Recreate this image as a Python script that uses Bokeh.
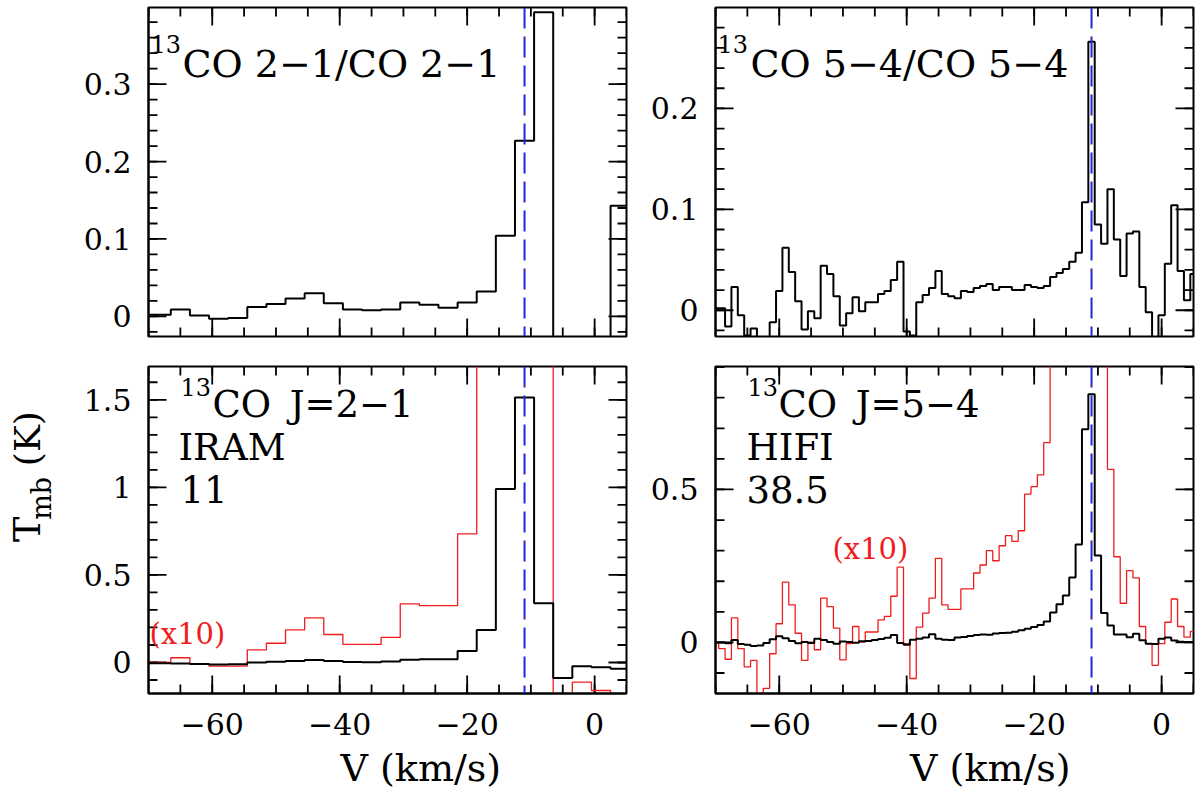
from bokeh.plotting import figure
from bokeh.layouts import gridplot
from bokeh.models import LinearAxis, FixedTicker, Span
from bokeh.core.properties import value
from bokeh.embed import file_html
from bokeh.resources import INLINE
import numpy as np

FONT = "DejaVu Serif"
RED = "#f01c1c"
BLUE = "#2424dd"
MID = 0.38  # distance from a text's vertical middle down to its baseline, in em

# IRAM 13CO 2-1, 3 km/s channels
v_iram = [-71, -68, -65, -62, -59, -56, -53, -50, -47, -44, -41, -38, -35,
          -32, -29, -26, -23, -20, -17, -14, -11, -8, -5, -2, 1, 4]
ratio_21 = [0.002, 0.002, 0.009, 0.001, -0.003, -0.002, 0.012, 0.016, 0.023, 0.030, 0.017, 0.009, 0.008,
            0.009, 0.018, 0.015, 0.011, 0.018, 0.032, 0.104, 0.227, 0.393, -0.3, -0.3, -0.3, 0.143]
tmb_21 = [-0.005, -0.005, -0.006, -0.008, -0.012, -0.010, 0.000, 0.004, 0.008, 0.014, 0.008, 0.003, 0.002,
          0.006, 0.016, 0.018, 0.018, 0.065, 0.186, 0.990, 1.513, 0.338, -0.089, -0.021, -0.027, -0.036]
tmb_21_x10 = [0.0, 0.0, 0.027, -0.008, -0.021, -0.021, 0.072, 0.110, 0.186, 0.255, 0.160, 0.103, 0.103,
              0.144, 0.335, 0.325, 0.325, 0.734, 1.86, 9.9, 15.1, 3.38, -0.89, -0.112, -0.160, -0.30]

# HIFI 13CO 5-4, 1 km/s channels
v_hifi = [-70, -69, -68, -67, -66, -65, -64, -63, -62, -61,
          -60, -59, -58, -57, -56, -55, -54, -53, -52, -51,
          -50, -49, -48, -47, -46, -45, -44, -43, -42, -41,
          -40, -39, -38, -37, -36, -35, -34, -33, -32, -31,
          -30, -29, -28, -27, -26, -25, -24, -23, -22, -21,
          -20, -19, -18, -17, -16, -15, -14, -13, -12, -11,
          -10, -9, -8, -7, -6, -5, -4, -3, -2, -1,
          0, 1, 2, 3, 4, 5]
ratio_54 = [0.002, 0.002, -0.016, 0.023, -0.005, -0.025, -0.018, -0.040, -0.040, -0.012,
            0.019, 0.062, 0.038, 0.009, -0.019, -0.001, -0.008, 0.044, 0.036, 0.014,
            -0.015, -0.003, 0.013, -0.001, 0.008, 0.008, 0.016, 0.019, 0.030, 0.048,
            -0.021, -0.025, 0.008, 0.015, 0.022, 0.039, 0.016, 0.014, 0.012, 0.019,
            0.018, 0.022, 0.024, 0.026, 0.020, 0.023, 0.023, 0.020, 0.020, 0.025,
            0.023, 0.022, 0.024, 0.033, 0.037, 0.041, 0.048, 0.057, 0.107, 0.266,
            0.085, 0.066, 0.120, 0.070, 0.034, 0.076, 0.078, 0.023, -0.002, -0.040,
            -0.005, 0.046, 0.104, 0.039, 0.010, 0.036]
tmb_54 = [0.000, 0.000, -0.003, 0.008, -0.005, -0.008, -0.012, -0.010, -0.002, 0.010,
          0.020, 0.014, 0.005, -0.003, 0.001, -0.002, 0.012, 0.008, 0.001, -0.004,
          0.003, 0.001, -0.001, 0.004, 0.005, 0.008, 0.011, 0.015, 0.024, -0.002,
          -0.008, 0.009, 0.012, 0.016, 0.027, 0.012, 0.009, 0.008, 0.016, 0.018,
          0.021, 0.024, 0.026, 0.025, 0.029, 0.031, 0.032, 0.035, 0.040, 0.045,
          0.050, 0.057, 0.068, 0.098, 0.125, 0.153, 0.212, 0.320, 0.697, 0.811,
          0.284, 0.096, 0.055, 0.026, 0.026, 0.017, 0.028, 0.007, -0.004, -0.005,
          0.012, 0.016, 0.006, 0.002, 0.001, 0.001]
tmb_54_x10 = [0.000, -0.020, -0.055, 0.080, -0.020, -0.080, -0.059, -0.250, -0.150, -0.037,
              0.061, 0.197, 0.123, 0.030, -0.059, 0.001, -0.024, 0.145, 0.117, 0.047,
              -0.057, -0.004, 0.052, 0.001, 0.034, 0.034, 0.074, 0.085, 0.151, 0.246,
              -0.004, -0.118, 0.050, 0.096, 0.145, 0.275, 0.123, 0.108, 0.108, 0.175,
              0.175, 0.227, 0.253, 0.300, 0.267, 0.316, 0.349, 0.330, 0.365, 0.485,
              0.509, 0.548, 0.653, 0.98, 1.25, 1.53, 2.12, 3.20, 6.97, 8.11,
              2.84, 0.96, 0.566, 0.280, 0.128, 0.235, 0.211, 0.052, -0.004, -0.075,
              -0.004, 0.066, 0.142, 0.052, 0.017, 0.036]

v_source = -11.0

x_ticks = [-60, -40, -20, 0]
x_tick_labels = ["\u221260", "\u221240", "\u221220", "0"]
y_ticks_tl = [0, 0.1, 0.2, 0.3]
y_labels_tl = ["0", "0.1", "0.2", "0.3"]
y_ticks_tr = [0, 0.1, 0.2]
y_labels_tr = ["0", "0.1", "0.2"]
y_ticks_bl = [0, 0.5, 1, 1.5]
y_labels_bl = ["0", "0.5", "1", "1.5"]
y_ticks_br = [0, 0.5]
y_labels_br = ["0", "0.5"]

X_RANGE = (-70, 5)
FRAME_W = 478


def stairs(v, t, dv):
    xs, ys = [], []
    for vi, ti in zip(v, t):
        xs += [vi - dv / 2, vi + dv / 2]
        ys += [ti, ti]
    return xs, ys


def label_axis(ax, standoff):
    ax.axis_line_width = 2
    ax.axis_line_color = "black"
    ax.major_tick_in = 0
    ax.major_tick_out = 0
    ax.minor_tick_in = 0
    ax.minor_tick_out = 0
    ax.major_label_text_font = FONT
    ax.major_label_text_font_size = "30px"
    ax.major_label_text_color = "black"
    ax.major_label_standoff = standoff


def inner_ticks(p, ticks, minor, yr, vertical):
    # ticks pointing into the frame from both opposite edges
    for pos, n in ((ticks, 18), (minor, 9)):
        if vertical:
            p.ray(x=pos, y=[yr[0]] * len(pos), length=n, angle=np.pi / 2,
                  length_units="screen", line_color="black", line_width=1.8)
            p.ray(x=pos, y=[yr[1]] * len(pos), length=n, angle=-np.pi / 2,
                  length_units="screen", line_color="black", line_width=1.8)
        else:
            p.ray(x=[X_RANGE[0]] * len(pos), y=pos, length=n, angle=0,
                  length_units="screen", line_color="black", line_width=1.8)
            p.ray(x=[X_RANGE[1]] * len(pos), y=pos, length=n, angle=np.pi,
                  length_units="screen", line_color="black", line_width=1.8)


def blank(width, height):
    p = figure(width=width, height=height, x_range=(0, width), y_range=(0, height),
               min_border=0, x_axis_location=None, y_axis_location=None,
               toolbar_location=None, output_backend="svg")
    p.grid.visible = False
    p.outline_line_color = None
    return p


def panel(y_range, y_ticks, y_labels, y_step, borders, frame_h, bottom_row):
    left, right, top, bottom = borders
    p = figure(width=left + FRAME_W + right, height=top + frame_h + bottom,
               x_range=X_RANGE, y_range=y_range,
               min_border_left=left, min_border_right=right,
               min_border_top=top, min_border_bottom=bottom,
               x_axis_location=None, y_axis_location=None,
               toolbar_location=None, output_backend="svg")
    p.grid.visible = False
    p.outline_line_color = "black"
    p.outline_line_width = 2
    p.tags = [frame_h]
    x_minor = list(np.arange(-70, 5.1, 5))
    y_minor = list(np.round(np.arange(y_step * np.ceil(y_range[0] / y_step), y_range[1], y_step), 3))
    if bottom_row:
        ax = LinearAxis(ticker=FixedTicker(ticks=x_ticks))
        label_axis(ax, 19)
        ax.major_label_overrides = dict(zip(x_ticks, x_tick_labels))
        p.add_layout(ax, "below")
    ay = LinearAxis(ticker=FixedTicker(ticks=y_ticks))
    label_axis(ay, 17)
    ay.major_label_overrides = dict(zip(y_ticks, y_labels))
    p.add_layout(ay, "left")
    inner_ticks(p, x_ticks, x_minor, y_range, True)
    inner_ticks(p, y_ticks, y_minor, y_range, False)
    p.add_layout(Span(location=v_source, dimension="height", line_color=BLUE,
                      line_width=2, line_dash="21 8"))
    return p


def note(p, text, px, py, size, color="black"):
    # px, py: pixel offsets of the text baseline start from the frame's lower-left corner
    yr = (p.y_range.start, p.y_range.end)
    py = py + MID * size
    x = X_RANGE[0] + (X_RANGE[1] - X_RANGE[0]) * px / FRAME_W
    y = yr[0] + (yr[1] - yr[0]) * py / p.tags[0]
    p.text(x=[x], y=[y], text=[text], text_font=value(FONT), text_font_size=value(f"{size}px"),
           text_color=color, text_align="left", text_baseline="middle")


tl = panel((-0.026, 0.399), y_ticks_tl, y_labels_tl, 0.02, (80, 2, 7, 28), 329, False)
tr = panel((-0.026, 0.300), y_ticks_tr, y_labels_tr, 0.02, (87, 2, 7, 28), 329, False)
bl = panel((-0.177, 1.69), y_ticks_bl, y_labels_bl, 0.1, (80, 2, 2, 55), 327, True)
br = panel((-0.167, 0.902), y_ticks_br, y_labels_br, 0.1, (87, 2, 2, 55), 327, True)

xs, ys = stairs(v_iram, ratio_21, 3)
tl.line(xs, ys, line_color="black", line_width=2)
xs, ys = stairs(v_hifi, ratio_54, 1)
tr.line(xs, ys, line_color="black", line_width=2)
xs, ys = stairs(v_iram, tmb_21_x10, 3)
bl.line(xs, ys, line_color=RED, line_width=1.3)
xs, ys = stairs(v_iram, tmb_21, 3)
bl.line(xs, ys, line_color="black", line_width=2)
xs, ys = stairs(v_hifi, tmb_54_x10, 1)
br.line(xs, ys, line_color=RED, line_width=1.3)
xs, ys = stairs(v_hifi, tmb_54, 1)
br.line(xs, ys, line_color="black", line_width=2)

# panel annotations
note(tl, "13", 2, 283, 24)
note(tl, "CO 2\u22121/CO 2\u22121", 34, 258, 38)
note(tr, "13", 2, 283, 24)
note(tr, "CO 5\u22124/CO 5\u22124", 35, 258, 38)

note(bl, "13", 32, 297, 24)
note(bl, "CO\u2002J=2\u22121", 64, 275, 37)
note(bl, "IRAM", 30, 232, 37)
note(bl, "11", 32, 190, 37)
note(bl, "(x10)", 1, 48, 29, RED)

note(br, "13", 32, 297, 24)
note(br, "CO\u2002J=5\u22124", 63, 275, 37)
note(br, "HIFI", 31, 232, 37)
note(br, "38.5", 31, 190, 37)
note(br, "(x10)", 117, 133, 29, RED)

# y-axis title (rotated, with subscript) in a strip left of the lower row
ylab = blank(68, 384)
for txt, x, y, size in (("T", 40, 178, 38), ("mb", 50, 204, 27), ("(K)", 40, 267, 36)):
    ylab.text(x=[x - 0.35 * size], y=[y], text=[txt], angle=np.pi / 2, text_font=value(FONT),
              text_font_size=value(f"{size}px"), text_color="black",
              text_align="left", text_baseline="middle")

# x-axis titles under the lower panels
for col_w, cx in ((560, 319), (567, 326)):
    strip = blank(col_w, 48)
    strip.text(x=[cx], y=[14 + MID * 38], text=["V (km/s)"], text_font=value(FONT),
               text_font_size=value("38px"), text_color="black",
               text_align="center", text_baseline="middle")
    if col_w == 560:
        xl_l = strip
    else:
        xl_r = strip

grid = gridplot([[None, tl, tr], [ylab, bl, br], [None, xl_l, xl_r]], toolbar_location=None)
open("out.html", "w").write(file_html(grid, INLINE))
